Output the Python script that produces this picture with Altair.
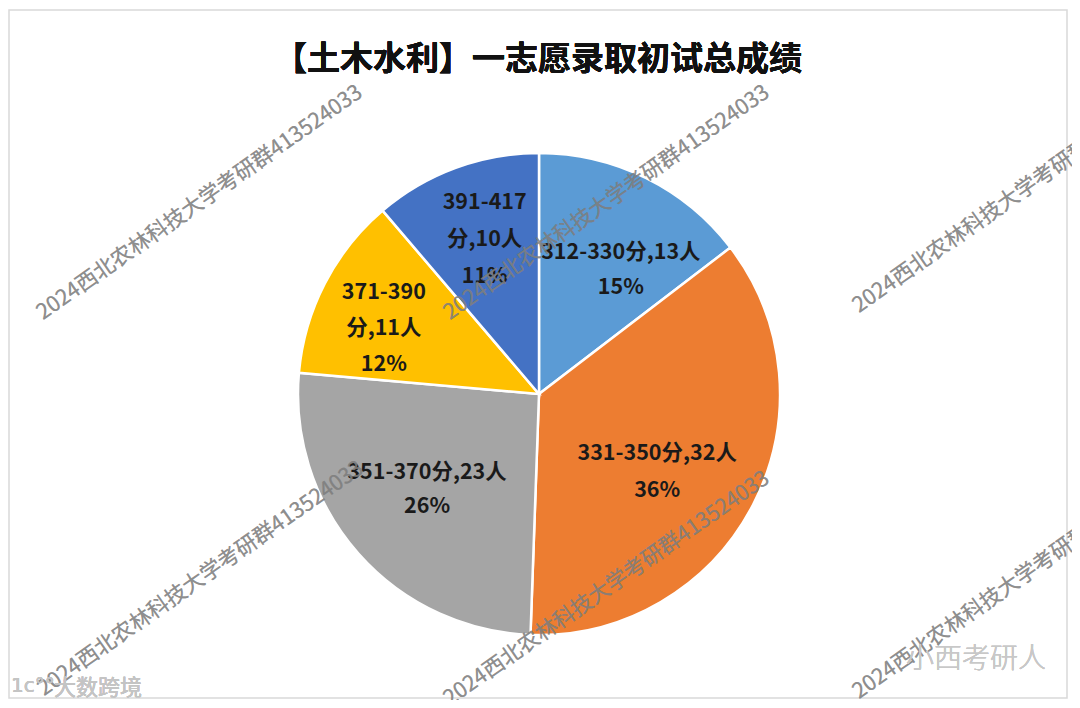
import altair as alt
import pandas as pd

# ---- data ----
ranges = ["312-330", "331-350", "351-370", "371-390", "391-417"]
counts = [13, 32, 23, 11, 10]
colors = ["#5B9BD5", "#ED7D31", "#A5A5A5", "#FFC000", "#4472C4"]
title_text = "【土木水利】一志愿录取初试总成绩"
watermark = "2024西北农林科技大学考研群413524033"

total = sum(counts)
pcts = [f"{round(c / total * 100)}%" for c in counts]
wrap = [False, False, False, True, True]
labels = []
for r, c, p, w in zip(ranges, counts, pcts, wrap):
    if w:
        labels.append(f"{r}\n分,{c}人\n{p}")
    else:
        labels.append(f"{r}分,{c}人\n{p}")

df = pd.DataFrame({"range": ranges, "count": counts, "order": list(range(len(ranges))), "label": labels})

# ---- layout ----
W, H = 1058, 688
CX, CY, R = 530, 384, 241
LR = 160
FONT = "Noto Sans CJK SC"
theta_scale = alt.Scale(domain=[0, total])
color_scale = alt.Scale(domain=ranges, range=colors)

arc = alt.Chart(df).mark_arc(outerRadius=R, stroke="white", strokeWidth=2.5).encode(
    theta=alt.Theta("count:Q", stack=True, scale=theta_scale),
    order=alt.Order("order:Q"),
    color=alt.Color("range:N", scale=color_scale, legend=None),
    x=alt.value(CX),
    y=alt.value(CY),
)

text_base = alt.Chart(df).transform_window(
    cum="sum(count)", sort=[alt.SortField("order")], frame=[None, 0]
).transform_calculate(mid="datum.cum - datum.count / 2")

# label nudges (pixels) relative to the slice mid-angle point
nudges = [(11, 2), (-24, -13), (8, -27), (-13, -28), (1, -41)]
line_heights = [35, 37, 34, 36, 37]
text_layers = []
for i, ((ddx, ddy), lh) in enumerate(zip(nudges, line_heights)):
    text_layers.append(
        text_base.transform_filter(f"datum.order == {i}").mark_text(
            radius=LR, dx=ddx, dy=ddy, font=FONT, fontSize=21.5, fontWeight="bold",
            color="#1a1a1a", lineBreak="\n", lineHeight=lh, align="center", baseline="middle",
        ).encode(
            theta=alt.Theta("mid:Q", stack=False, scale=theta_scale),
            text="label:N",
            x=alt.value(CX),
            y=alt.value(CY),
        )
    )

title = alt.Chart(df).mark_text(
    font=FONT, fontSize=33, fontWeight="bold", color="#111111", align="center", baseline="middle"
).encode(x=alt.value(529), y=alt.value(50), text=alt.value(title_text))

wm_pos = [(191, 193), (598, 193), (1007, 186), (192, 569), (598, 579), (1007, 572)]
wm_layers = []
for (wx, wy) in wm_pos:
    wm_layers.append(
        alt.Chart(df).mark_text(
            font=FONT, fontSize=21.5, color="#7f7f7f", opacity=0.34, angle=325,
            align="center", baseline="middle",
        ).encode(x=alt.value(wx), y=alt.value(wy), text=alt.value(watermark))
    )

logo1 = alt.Chart(df).mark_text(
    font=FONT, fontSize=22, color="#c4c4c4", align="left", baseline="middle"
).encode(x=alt.value(45), y=alt.value(678), text=alt.value("大数跨境"))
logo1b = alt.Chart(df).mark_text(
    font="DejaVu Sans", fontSize=20, color="#c4c4c4", align="left", baseline="middle"
).encode(x=alt.value(2), y=alt.value(676), text=alt.value("1c°°"))
logo2 = alt.Chart(df).mark_text(
    font=FONT, fontSize=28, fontWeight=300, color="#c8c8c8", align="center", baseline="middle"
).encode(x=alt.value(967), y=alt.value(650), text=alt.value("小西考研人"))

chart = alt.layer(arc, *text_layers, title, *wm_layers, logo1, logo1b, logo2).properties(
    width=W, height=H,
    autosize=alt.AutoSizeParams(type="none"),
    padding={"left": 1, "top": 2, "right": 5, "bottom": 2},
    background="white",
).configure_view(stroke="#d9d9d9", strokeWidth=1.5)

chart.save("out.html", embed_options={"renderer": "svg", "actions": False})
